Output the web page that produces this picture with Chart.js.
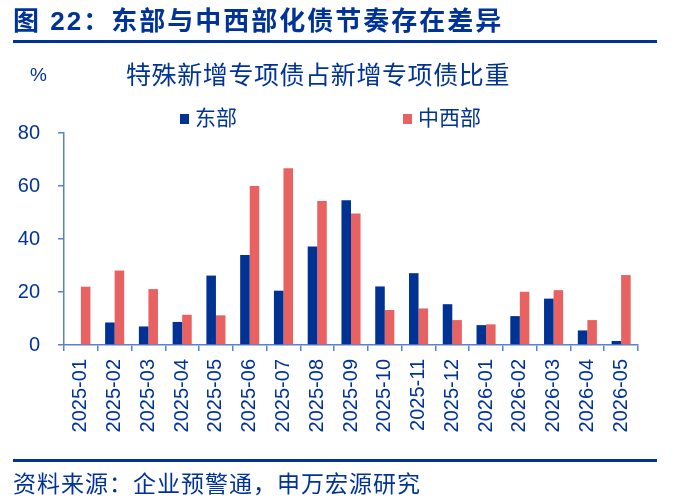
<!DOCTYPE html>
<html>
<head>
<meta charset="utf-8">
<script src="https://cdn.jsdelivr.net/npm/chart.js@4/dist/chart.umd.min.js"></script>
<style>
  html, body { margin: 0; padding: 0; background: #ffffff; }
  #wrap { position: relative; width: 676px; height: 498px; overflow: hidden; background: #fff; }
  #c { position: absolute; left: 0; top: 0; }
  .txt { position: absolute; white-space: nowrap; line-height: 1; color: #003399;
         font-family: "Liberation Sans", "Noto Sans CJK SC", sans-serif; }
  .rule { position: absolute; left: 13px; width: 644px; background: #003399; }
</style>
</head>
<body>
<div id="wrap">
  <canvas id="c" width="676" height="498"></canvas>
  <div class="txt" id="hdr" style="left:13px; top:8px; font-size:26px; font-weight:bold; letter-spacing:2px;">图 22：东部与中西部化债节奏存在差异</div>
  <div class="rule" style="top:40px; height:3px;"></div>
  <div class="txt" style="left:30px; top:65px; font-size:19px;">%</div>
  <div class="txt" id="ctitle" style="left:126px; top:63px; font-size:25px; letter-spacing:0.6px;">特殊新增专项债占新增专项债比重</div>
  <div class="rule" style="top:459px; height:3px;"></div>
  <div class="txt" style="left:13px; top:473px; font-size:23px; letter-spacing:1px;">资料来源：企业预警通，申万宏源研究</div>
</div>
<script>
const categories = ["2025-01","2025-02","2025-03","2025-04","2025-05","2025-06","2025-07","2025-08","2025-09","2025-10","2025-11","2025-12","2026-01","2026-02","2026-03","2026-04","2026-05"];
const eastValues = [null, 8.5, 7.0, 8.7, 26.2, 34.0, 20.5, 37.2, 54.6, 22.1, 27.1, 15.4, 7.5, 10.9, 17.5, 5.5, 1.5];
const westValues = [22.0, 28.1, 21.1, 11.4, 11.2, 60.0, 66.7, 54.3, 49.6, 13.2, 13.8, 9.4, 7.8, 20.1, 20.7, 9.4, 26.4];
const seriesNames = ["东部", "中西部"];
const yTicks = [0, 20, 40, 60, 80];

const textColor = "#003399";
const axisColor = "#5a80d4";
const eastColor = "#003293";
const westColor = "#e86262";
const fontFamily = "'Liberation Sans', 'Noto Sans CJK SC', sans-serif";

const legendPlugin = {
  id: "customLegend",
  afterDraw(chart) {
    const ctx = chart.ctx;
    const items = [
      { x: 180, label: chart.data.datasets[0].label, color: chart.data.datasets[0].backgroundColor },
      { x: 403, label: chart.data.datasets[1].label, color: chart.data.datasets[1].backgroundColor }
    ];
    const y = 119;
    ctx.save();
    ctx.font = "21px " + fontFamily;
    ctx.textBaseline = "middle";
    ctx.textAlign = "left";
    items.forEach(it => {
      ctx.fillStyle = it.color;
      ctx.fillRect(it.x, y - 5, 9, 10);
      ctx.fillStyle = textColor;
      ctx.fillText(it.label, it.x + 15, y);
    });
    ctx.restore();
  }
};

new Chart(document.getElementById("c"), {
  type: "bar",
  data: {
    labels: categories,
    datasets: [
      { label: seriesNames[0], data: eastValues, backgroundColor: eastColor, borderWidth: 0 },
      { label: seriesNames[1], data: westValues, backgroundColor: westColor, borderWidth: 0 }
    ]
  },
  options: {
    responsive: false,
    animation: false,
    devicePixelRatio: 1,
    layout: { padding: { left: 18, right: 38, top: 133, bottom: 64 } },
    datasets: { bar: { categoryPercentage: 0.565, barPercentage: 1.0 } },
    plugins: {
      legend: { display: false },
      title: { display: false },
      tooltip: { enabled: false }
    },
    scales: {
      x: {
        offset: true,
        afterFit(axis) { axis.height = 89; },
        grid: { display: true, drawOnChartArea: false, drawTicks: true, tickLength: 6, color: axisColor, lineWidth: 1.5, offset: true },
        border: { display: true, color: axisColor, width: 1.5 },
        ticks: { color: textColor, font: { size: 20, family: fontFamily }, minRotation: 90, maxRotation: 90, padding: 8, autoSkip: false }
      },
      y: {
        min: 0, max: 80,
        afterFit(axis) { axis.width = 46; },
        afterBuildTicks(axis) { axis.ticks = yTicks.map(v => ({ value: v })); },
        grid: { display: true, drawOnChartArea: false, drawTicks: true, tickLength: 6, color: axisColor, lineWidth: 1.5 },
        border: { display: true, color: axisColor, width: 1.5 },
        ticks: { color: textColor, font: { size: 20, family: fontFamily }, padding: 18 }
      }
    }
  },
  plugins: [legendPlugin]
});
</script>
</body>
</html>
